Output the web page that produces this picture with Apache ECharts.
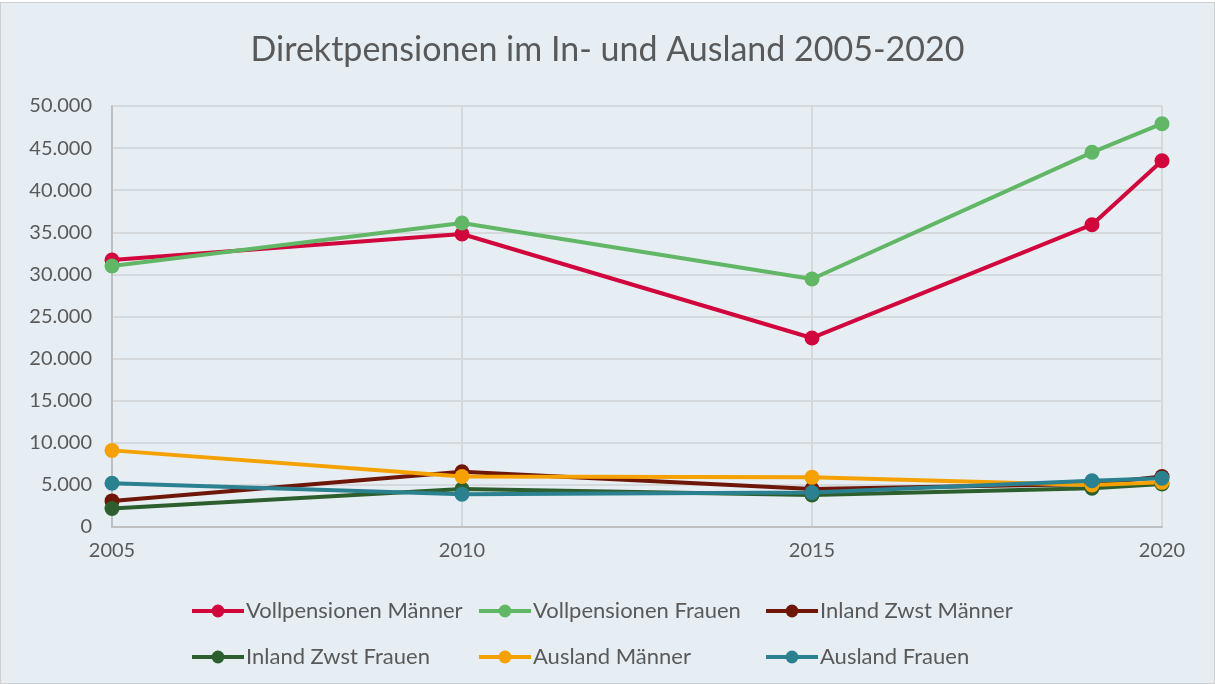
<!DOCTYPE html>
<html>
<head>
<meta charset="utf-8">
<script src="https://cdn.jsdelivr.net/npm/echarts@6/dist/echarts.min.js"></script>
<style>
html, body { margin: 0; padding: 0; background: #fff; }
#chart { width: 1213px; height: 680px; border: 1px solid #d0d0d0; margin-top: 2px; background: #e6eef4; }
</style>
</head>
<body>
<div id="chart"></div>
<script>
const years = [2005, 2010, 2015, 2019, 2020]
const vollMaenner = [31700, 34800, 22450, 35900, 43500]
const vollFrauen = [31000, 36100, 29450, 44500, 47900]
const inlandMaenner = [3100, 6550, 4500, 5100, 6000]
const inlandFrauen = [2200, 4500, 3800, 4600, 5100]
const auslandMaenner = [9100, 6000, 5900, 5000, 5300]
const auslandFrauen = [5200, 3900, 4100, 5500, 5800]

const names = ["Vollpensionen Männer", "Vollpensionen Frauen", "Inland Zwst Männer",
               "Inland Zwst Frauen", "Ausland Männer", "Ausland Frauen"]
const colors = ["#d0063c", "#62b766", "#6e1708", "#2c5f2d", "#f5a100", "#2b8190"]
const values = [vollMaenner, vollFrauen, inlandMaenner, inlandFrauen, auslandMaenner, auslandFrauen]

const font = "Lato, 'Open Sans', sans-serif"
const txt = "#595959"

// legend in a 3x2 grid, one legend per item
const legendLeft = [189, 476, 763]
const legendTop = [597, 643]
const legends = names.map((n, i) => ({
    left: legendLeft[i % 3],
    top: legendTop[Math.floor(i / 3)],
    padding: 0,
    itemWidth: 52,
    itemHeight: 16,
    itemGap: 0,
    lineStyle: { width: 4 },
    data: [n],
    textStyle: { color: txt, fontSize: 22, fontFamily: font, padding: [0, 0, 0, -3] }
}))

const chart = echarts.init(document.getElementById("chart"))
chart.setOption({
    backgroundColor: "#e6eef4",
    title: {
        text: "Direktpensionen im In- und Ausland 2005-2020",
        left: "center",
        top: 25,
        textStyle: { color: txt, fontSize: 34, fontWeight: "normal", fontFamily: font }
    },
    legend: legends,
    grid: { left: 111, right: 52, top: 103, bottom: 156 },
    xAxis: {
        type: "value",
        min: 2005,
        max: 2020,
        interval: 5,
        axisLine: { show: true, lineStyle: { color: "#bfbfbf", width: 2 } },
        axisTick: { show: false },
        splitLine: { show: true, lineStyle: { color: "#d6d9dc", width: 2 } },
        axisLabel: { color: txt, fontSize: 20, fontFamily: font, margin: 14, formatter: v => String(v) }
    },
    yAxis: {
        type: "value",
        min: 0,
        max: 50000,
        interval: 5000,
        axisLine: { show: true, lineStyle: { color: "#bfbfbf", width: 2 } },
        axisTick: { show: false },
        splitLine: { lineStyle: { color: "#d6d9dc", width: 2 } },
        axisLabel: {
            color: txt, fontSize: 20, fontFamily: font, margin: 20,
            formatter: v => v.toString().replace(/\B(?=(\d{3})+(?!\d))/g, ".")
        }
    },
    series: names.map((n, i) => ({
        name: n,
        type: "line",
        data: years.map((y, j) => [y, values[i][j]]),
        symbol: "circle",
        symbolSize: 15,
        color: colors[i],
        lineStyle: { width: 4, color: colors[i] },
        itemStyle: { color: colors[i] }
    }))
})
</script>
</body>
</html>
